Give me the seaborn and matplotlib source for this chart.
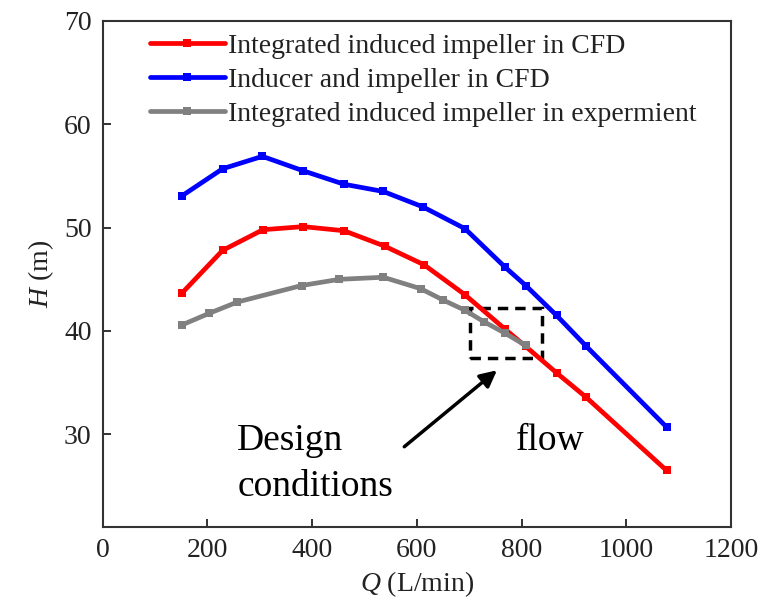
import numpy as np
import pandas as pd
import matplotlib
matplotlib.use("Agg")
import matplotlib.pyplot as plt
import seaborn as sns
from matplotlib.patches import Rectangle

# ---- data ----
q_red = [152, 229, 306, 383, 461, 539, 614, 692, 768, 808, 868, 923, 1077]
h_red = [43.7, 47.8, 49.8, 50.1, 49.7, 48.2, 46.4, 43.5, 40.2, 38.5, 35.9, 33.6, 26.5]

q_blue = [152, 229, 305, 383, 461, 536, 612, 692, 768, 808, 867, 924, 1077]
h_blue = [53.1, 55.7, 56.9, 55.5, 54.2, 53.5, 52.0, 49.9, 46.2, 44.4, 41.5, 38.5, 30.7]

q_gray = [152, 203, 257, 380, 452, 536, 607, 650, 692, 728, 768, 808]
h_gray = [40.6, 41.7, 42.8, 44.4, 45.0, 45.2, 44.1, 43.0, 42.0, 40.9, 39.8, 38.6]

labels = ["Integrated induced impeller in CFD",
          "Inducer and impeller in CFD",
          "Integrated induced impeller in expermient"]
colors = ["#FF0000", "#0000FF", "#808080"]

x_ticks = [0, 200, 400, 600, 800, 1000, 1200]
y_ticks = [30, 40, 50, 60, 70]

df = pd.concat([
    pd.DataFrame({"Q": q_red, "H": h_red, "series": labels[0]}),
    pd.DataFrame({"Q": q_blue, "H": h_blue, "series": labels[1]}),
    pd.DataFrame({"Q": q_gray, "H": h_gray, "series": labels[2]}),
], ignore_index=True)

sns.set_theme(style="white")
plt.rcParams["font.family"] = ["Liberation Serif", "DejaVu Serif"]
plt.rcParams["mathtext.fontset"] = "custom"
plt.rcParams["mathtext.it"] = "Liberation Serif:italic"
plt.rcParams["mathtext.rm"] = "Liberation Serif"

fig = plt.figure(figsize=(7.62, 6.03), dpi=100)
ax = fig.add_axes([0.1348, 0.1255, 0.8245, 0.8397])

sns.lineplot(data=df, x="Q", y="H", hue="series", hue_order=labels,
             palette=dict(zip(labels, colors)), style="series",
             markers={l: "s" for l in labels}, dashes=False, sort=False,
             linewidth=3.4, markersize=6, markeredgewidth=0, ax=ax)

ax.set_xlim(0, 1200)
ax.set_ylim(21, 70)
ax.set_xticks(x_ticks)
ax.set_yticks(y_ticks)
ax.tick_params(axis="both", direction="in", length=6, width=1.3,
               labelsize=20, color="#222222", labelcolor="#222222", pad=8,
               bottom=True, left=True, top=False, right=False)
for s in ax.spines.values():
    s.set_linewidth(1.5)
    s.set_color("#333333")

ax.set_xlabel(r"$Q$ (L/min)", fontsize=20, color="#222222", labelpad=4)
ax.set_ylabel(r"$H$ (m)", fontsize=20, color="#222222", labelpad=6)

# design box and annotation
ax.add_patch(Rectangle((702, 37.35), 137, 4.85, fill=False, ec="black",
                       lw=2.5, ls=(0, (3, 2))))
ax.annotate("", xy=(753, 36.2), xytext=(576, 28.8),
            arrowprops=dict(arrowstyle="-|>", lw=2.5, color="black",
                            mutation_scale=25, shrinkA=0, shrinkB=0))
ax.text(257, 29.4, "Design", fontsize=27, ha="left", va="center", color="black")
ax.text(257, 24.9, "conditions", fontsize=27, ha="left", va="center", color="black")
ax.text(854, 29.4, "flow", fontsize=27, ha="center", va="center", color="black")

leg = ax.legend(loc="upper left", bbox_to_anchor=(0.075, 0.975), frameon=False,
                fontsize=20, handlelength=2.7, handletextpad=0.1,
                labelspacing=0.3, borderpad=0, borderaxespad=0)
for t in leg.get_texts():
    t.set_color("#222222")

fig.savefig("out.png", dpi=100)
